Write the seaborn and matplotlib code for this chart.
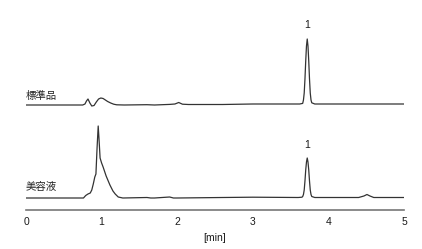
import matplotlib
matplotlib.use("Agg")
import matplotlib.pyplot as plt
import seaborn as sns
import pandas as pd

# Upper trace (標準品): time [min], signal above its own baseline
std_time = [0.0, 0.5, 0.75, 0.78, 0.8, 0.82, 0.845, 0.87, 0.9, 0.93, 0.96, 0.99, 1.02, 1.05,
            1.08, 1.12, 1.16, 1.2, 1.3, 1.6, 1.7, 1.9, 1.97, 2.02, 2.07, 2.15, 2.6, 3.0, 3.4,
            3.62, 3.66, 3.67, 3.68, 3.69, 3.70, 3.71, 3.72, 3.73, 3.74, 3.75, 3.76, 3.77,
            3.78, 3.82, 4.2, 5.0]
std_signal = [0.0, 0.0, 0.0, 1.0, 4.0, 6.0, 2.0, -1.0, -0.5, 3.0, 6.0, 7.0, 6.5, 5.0,
              3.5, 2.0, 0.8, 0.2, 0.0, 0.3, 0.0, 0.6, 1.0, 2.5, 0.8, 0.5, 0.5, 1.0, 1.0,
              1.0, 1.6, 5.0, 12.0, 26.0, 44.0, 59.0, 66.0, 59.0, 44.0, 26.0, 12.0, 5.0,
              2.2, 1.0, 1.0, 1.0]

# Lower trace (美容液)
smp_time = [0.0, 0.5, 0.76, 0.79, 0.82, 0.85, 0.87, 0.89, 0.91, 0.925, 0.94, 0.955, 0.965,
            0.98, 1.0, 1.02, 1.06, 1.11, 1.15, 1.18, 1.22, 1.28, 1.6, 1.65, 1.7, 1.9, 1.95,
            2.0, 2.6, 3.0, 3.6, 3.65, 3.66, 3.67, 3.68, 3.69, 3.70, 3.71, 3.72, 3.73, 3.74,
            3.75, 3.76, 3.77, 3.78, 3.82, 4.4, 4.47, 4.51, 4.55, 4.6, 5.0]
smp_signal = [0.0, 0.0, 0.0, 2.5, 4.0, 5.0, 8.0, 14.0, 21.0, 24.0, 50.0, 72.0, 60.0,
              40.0, 35.0, 31.0, 22.0, 13.0, 7.0, 4.0, 1.0, 0.0, 0.5, 0.0, 0.0, 1.0, 0.0,
              0.0, 0.5, 0.8, 0.5, 0.8, 1.5, 3.5, 8.0, 17.0, 28.0, 36.0, 40.0, 36.0, 28.0,
              17.0, 8.0, 3.5, 1.5, 0.5, 0.5, 2.0, 3.5, 2.0, 0.5, 0.5]

trace_names = ["標準品", "美容液"]
peak_label = "1"
peak_time = 3.72
x_ticks = [0, 1, 2, 3, 4, 5]
x_label = "[min]"

sns.set_style("white")
plt.rcParams["font.family"] = ["Liberation Sans", "DejaVu Sans"]

UP_BASE = 105
LOW_BASE = 12

df = pd.concat([
    pd.DataFrame({"t": std_time, "y": [v + UP_BASE for v in std_signal], "trace": trace_names[0]}),
    pd.DataFrame({"t": smp_time, "y": [v + LOW_BASE for v in smp_signal], "trace": trace_names[1]}),
])

fig = plt.figure(figsize=(4.22, 2.49), dpi=100)
ax = fig.add_axes([26 / 422, 39 / 249, 378 / 422, 210 / 249])
sns.lineplot(data=df, x="t", y="y", hue="trace", palette=["#333333", "#333333"],
             linewidth=0.9, legend=False, ax=ax, sort=False, estimator=None)

ax.set_xlim(0, 5)
ax.set_ylim(0, 210)
for s in ["top", "right", "left"]:
    ax.spines[s].set_visible(False)
ax.spines["bottom"].set_color("#777777")
ax.spines["bottom"].set_linewidth(1.2)
ax.set_yticks([])
ax.set_xticks(x_ticks)
ax.set_xticklabels([str(v) for v in x_ticks])
ax.tick_params(axis="x", direction="inout", length=4, width=0.8, color="#555555",
               labelsize=7.5, labelcolor="#1a1a1a", pad=3)
ax.set_xlabel(x_label, fontsize=7.5, color="#1a1a1a", labelpad=4)
ax.set_ylabel("")

cjk = ["Noto Sans CJK JP", "DejaVu Sans"]
ax.text(0.0, 114, trace_names[0], fontsize=7.5, family=cjk, color="#222222", va="center", ha="left")
ax.text(0.0, 23, trace_names[1], fontsize=7.5, family=cjk, color="#222222", va="center", ha="left")
ax.text(peak_time, 185, peak_label, fontsize=7.5, color="#1a1a1a", va="center", ha="center")
ax.text(peak_time, 65, peak_label, fontsize=7.5, color="#1a1a1a", va="center", ha="center")

fig.savefig("out.png", dpi=100)
